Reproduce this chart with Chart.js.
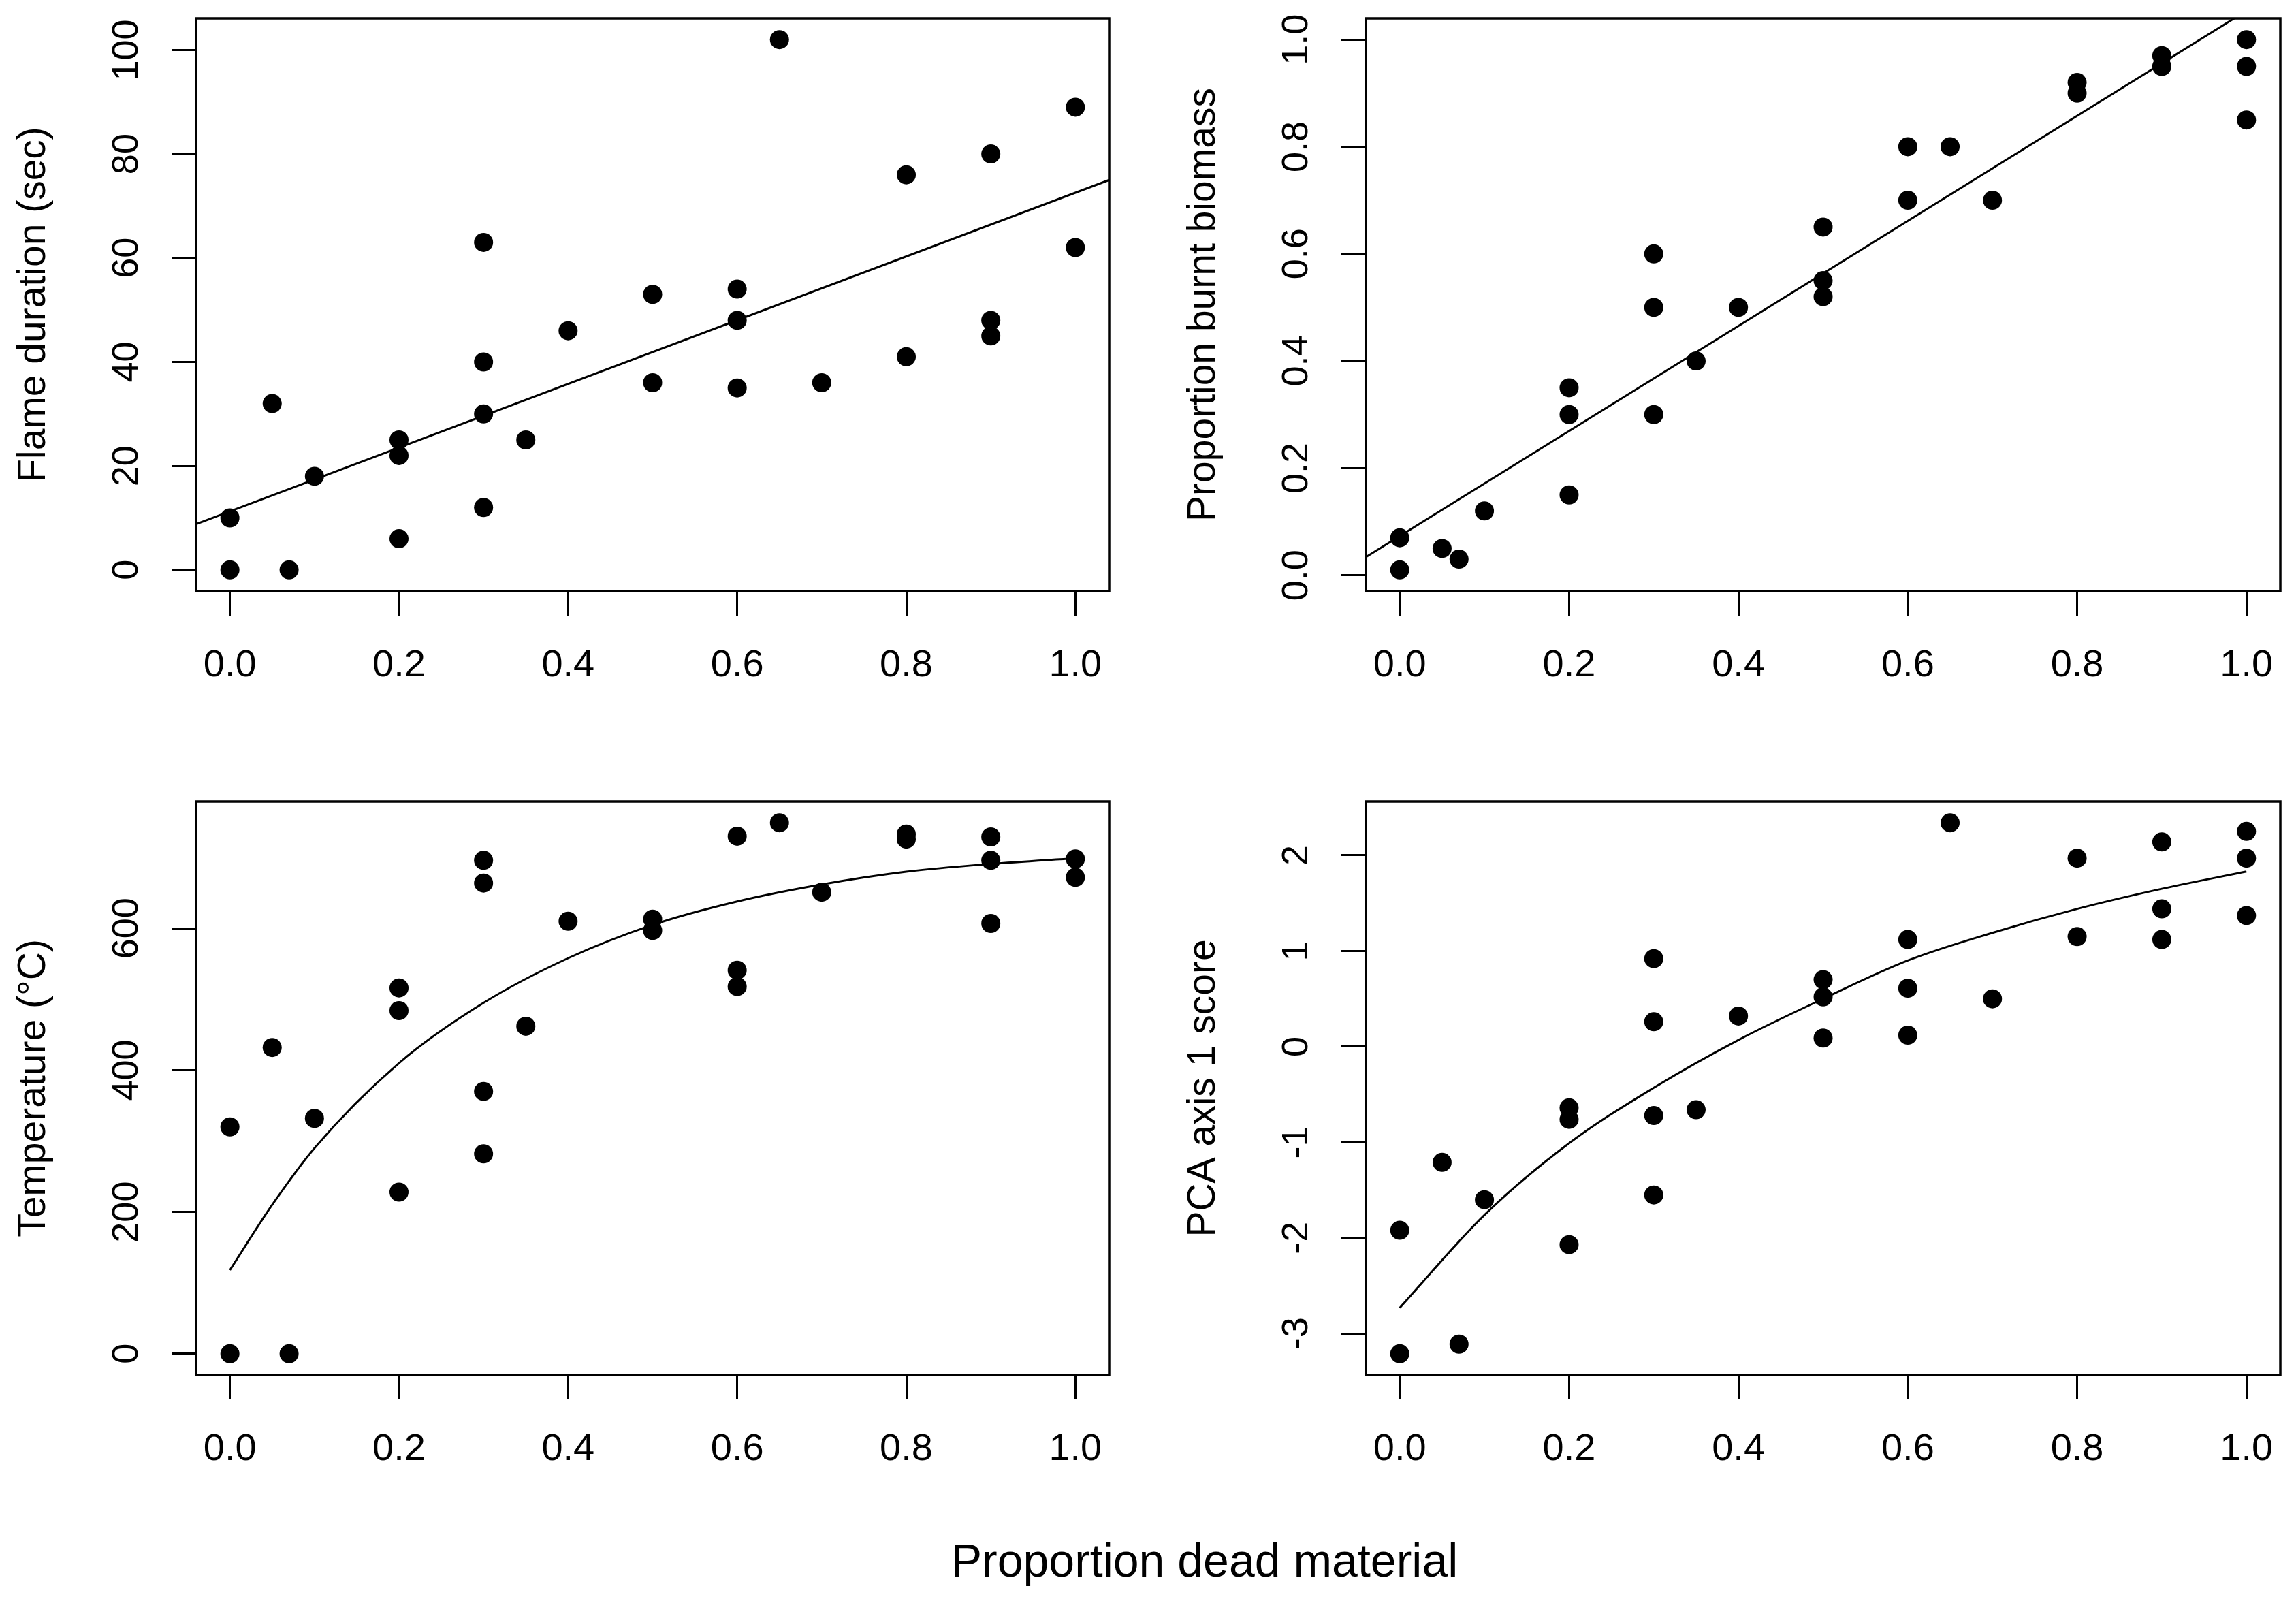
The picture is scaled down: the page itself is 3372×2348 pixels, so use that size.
<!DOCTYPE html>
<html>
<head>
<meta charset="utf-8">
<title>Proportion dead material</title>
<script src="https://cdn.jsdelivr.net/npm/chart.js@4.4.1/dist/chart.umd.min.js"></script>
<style>
  body { margin: 0; background: #fff; width: 3372px; height: 2348px; position: relative; overflow: hidden;
         font-family: "Liberation Sans", Arial, sans-serif; }
  canvas { position: absolute; }
  #xlab { position: absolute; left: 1169px; top: 2251px; width: 1200px; text-align: center;
          font-size: 68px; line-height: 80px; color: #000; }
</style>
</head>
<body>
<canvas id="flame" width="1686" height="1100" style="left:0;top:0"></canvas>
<canvas id="burnt" width="1654" height="1100" style="left:1718px;top:0"></canvas>
<canvas id="temp" width="1686" height="1050" style="left:0;top:1150px"></canvas>
<canvas id="pca" width="1654" height="1050" style="left:1718px;top:1150px"></canvas>
<div id="xlab">Proportion dead material</div>

<script>
// shared x axis
const xTicks = [0, 0.2, 0.4, 0.6, 0.8, 1.0];
const xTickLabels = ["0.0", "0.2", "0.4", "0.6", "0.8", "1.0"];

// Flame duration (sec)
const flameX = [0, 0, 0.05, 0.07, 0.1, 0.2, 0.2, 0.2, 0.3, 0.3, 0.3, 0.3, 0.35, 0.4, 0.5, 0.5, 0.6, 0.6, 0.6, 0.65, 0.7, 0.8, 0.8, 0.9, 0.9, 0.9, 1.0, 1.0];
const flameY = [10, 0, 32, 0, 18, 25, 22, 6, 63, 40, 30, 12, 25, 46, 53, 36, 54, 48, 35, 102, 36, 76, 41, 80, 48, 45, 89, 62];
const flameFitX = [-0.04, 1.04];
const flameFitY = [8.8, 75.0];
const flameTicks = [0, 20, 40, 60, 80, 100];
const flameTickLabels = ["0", "20", "40", "60", "80", "100"];

// Proportion burnt biomass
const burntX = [0, 0, 0.05, 0.07, 0.1, 0.2, 0.2, 0.2, 0.3, 0.3, 0.3, 0.35, 0.4, 0.5, 0.5, 0.5, 0.6, 0.6, 0.65, 0.7, 0.8, 0.8, 0.9, 0.9, 1.0, 1.0, 1.0];
const burntY = [0.07, 0.01, 0.05, 0.03, 0.12, 0.35, 0.30, 0.15, 0.60, 0.50, 0.30, 0.40, 0.50, 0.65, 0.55, 0.52, 0.80, 0.70, 0.80, 0.70, 0.92, 0.90, 0.97, 0.95, 1.00, 0.95, 0.85];
const burntFitX = [-0.04, 1.04];
const burntFitY = [0.034, 1.093];
const burntTicks = [0, 0.2, 0.4, 0.6, 0.8, 1.0];
const burntTickLabels = ["0.0", "0.2", "0.4", "0.6", "0.8", "1.0"];

// Temperature (°C)
const tempX = [0, 0, 0.05, 0.07, 0.1, 0.2, 0.2, 0.2, 0.3, 0.3, 0.3, 0.3, 0.35, 0.4, 0.5, 0.5, 0.6, 0.6, 0.6, 0.65, 0.7, 0.8, 0.8, 0.9, 0.9, 0.9, 1.0, 1.0];
const tempY = [320, 0, 432, 0, 332, 516, 484, 228, 696, 664, 370, 282, 462, 610, 613, 597, 730, 541, 518, 749, 651, 733, 726, 729, 696, 607, 698, 672];
const tempFitX = [0, 0.05, 0.1, 0.2, 0.3, 0.4, 0.5, 0.6, 0.7, 0.8, 0.9, 1.0];
const tempFitY = [118, 210, 290, 410, 495, 558, 605, 638, 662, 680, 691, 699];
const tempTicks = [0, 200, 400, 600];
const tempTickLabels = ["0", "200", "400", "600"];

// PCA axis 1 score
const pcaX = [0, 0, 0.05, 0.07, 0.1, 0.2, 0.2, 0.2, 0.3, 0.3, 0.3, 0.3, 0.35, 0.4, 0.5, 0.5, 0.5, 0.6, 0.6, 0.6, 0.65, 0.7, 0.8, 0.8, 0.9, 0.9, 0.9, 1.0, 1.0, 1.0];
const pcaY = [-1.92, -3.21, -1.21, -3.11, -1.60, -0.64, -0.76, -2.07, 0.92, 0.26, -0.72, -1.55, -0.66, 0.32, 0.70, 0.52, 0.09, 1.12, 0.61, 0.12, 2.34, 0.50, 1.97, 1.15, 2.14, 1.44, 1.12, 2.25, 1.97, 1.37];
const pcaFitX = [0, 0.1, 0.2, 0.3, 0.4, 0.5, 0.6, 0.7, 0.8, 0.9, 1.0];
const pcaFitY = [-2.73, -1.76, -1.01, -0.43, 0.07, 0.50, 0.90, 1.19, 1.44, 1.65, 1.83];
const pcaTicks = [-3, -2, -1, 0, 1, 2];
const pcaTickLabels = ["-3", "-2", "-1", "0", "1", "2"];

const family = "'Liberation Sans', Arial, sans-serif";
const tickSize = 54;

// box around the plot region, like R's box()
const frame = {
  id: "frame",
  afterDatasetsDraw(chart) {
    const a = chart.chartArea;
    const ctx = chart.ctx;
    ctx.save();
    ctx.strokeStyle = "#000";
    ctx.lineWidth = 3.5;
    ctx.strokeRect(a.left, a.top, a.right - a.left, a.bottom - a.top);
    ctx.restore();
  }
};

// padding so the rotated y labels are centred 101px left of the box
function yLabelPad(labels) {
  const ctx = document.createElement("canvas").getContext("2d");
  ctx.font = tickSize + "px " + family;
  const widest = Math.max(...labels.map(s => ctx.measureText(s).width));
  return 101 - 36 - widest / 2;
}

function makePanel(id, p) {
  const toPts = (xs, ys) => xs.map((x, i) => ({ x: x, y: ys[i] }));
  return new Chart(document.getElementById(id), {
    type: "scatter",
    data: {
      datasets: [
        {
          data: toPts(p.x, p.y),
          pointRadius: 14,
          pointHoverRadius: 14,
          pointBackgroundColor: "#000",
          pointBorderWidth: 0,
          showLine: false
        },
        {
          data: toPts(p.fitX, p.fitY),
          showLine: true,
          pointRadius: 0,
          borderColor: "#000",
          borderWidth: 3,
          cubicInterpolationMode: "monotone"
        }
      ]
    },
    options: {
      responsive: false,
      animation: false,
      events: [],
      layout: { padding: { top: 27, right: p.rightPad, left: 0, bottom: 0 } },
      plugins: { legend: { display: false }, tooltip: { enabled: false } },
      scales: {
        x: {
          type: "linear",
          min: -0.04,
          max: 1.04,
          afterBuildTicks: s => { s.ticks = xTicks.map(v => ({ value: v })); },
          afterFit: s => { s.height = p.xHeight; s.paddingLeft = 0; s.paddingRight = 0; },
          border: { display: false },
          grid: { drawOnChartArea: false, drawTicks: true, tickLength: 36, tickWidth: 3, tickColor: "#000" },
          ticks: {
            autoSkip: false, maxRotation: 0, padding: 40, color: "#000",
            font: { size: 56, family: family },
            callback: (v, i) => xTickLabels[i]
          }
        },
        y: {
          type: "linear",
          min: p.yMin,
          max: p.yMax,
          afterBuildTicks: s => { s.ticks = p.yTicks.map(v => ({ value: v })); },
          afterFit: s => { s.width = 288; s.paddingTop = 0; s.paddingBottom = 0; },
          border: { display: false },
          grid: { drawOnChartArea: false, drawTicks: true, tickLength: 36, tickWidth: 3, tickColor: "#000" },
          ticks: {
            autoSkip: false, minRotation: 90, maxRotation: 90, crossAlign: "center",
            padding: yLabelPad(p.yLabels), color: "#000",
            font: { size: tickSize, family: family },
            callback: (v, i) => p.yLabels[i]
          },
          title: {
            display: true, text: p.title, color: "#000",
            font: { size: 57, family: family },
            padding: { top: 16, bottom: 0 }
          }
        }
      }
    },
    plugins: [frame]
  });
}

makePanel("flame", {
  x: flameX, y: flameY, fitX: flameFitX, fitY: flameFitY,
  yTicks: flameTicks, yLabels: flameTickLabels, yMin: -4.08, yMax: 106.08,
  title: "Flame duration (sec)", rightPad: 57, xHeight: 232
});
makePanel("burnt", {
  x: burntX, y: burntY, fitX: burntFitX, fitY: burntFitY,
  yTicks: burntTicks, yLabels: burntTickLabels, yMin: -0.0296, yMax: 1.0396,
  title: "Proportion burnt biomass", rightPad: 23, xHeight: 232
});
makePanel("temp", {
  x: tempX, y: tempY, fitX: tempFitX, fitY: tempFitY,
  yTicks: tempTicks, yLabels: tempTickLabels, yMin: -29.96, yMax: 778.96,
  title: "Temperature (°C)", rightPad: 57, xHeight: 181
});
makePanel("pca", {
  x: pcaX, y: pcaY, fitX: pcaFitX, fitY: pcaFitY,
  yTicks: pcaTicks, yLabels: pcaTickLabels, yMin: -3.432, yMax: 2.562,
  title: "PCA axis 1 score", rightPad: 23, xHeight: 181
});
</script>
</body>
</html>
